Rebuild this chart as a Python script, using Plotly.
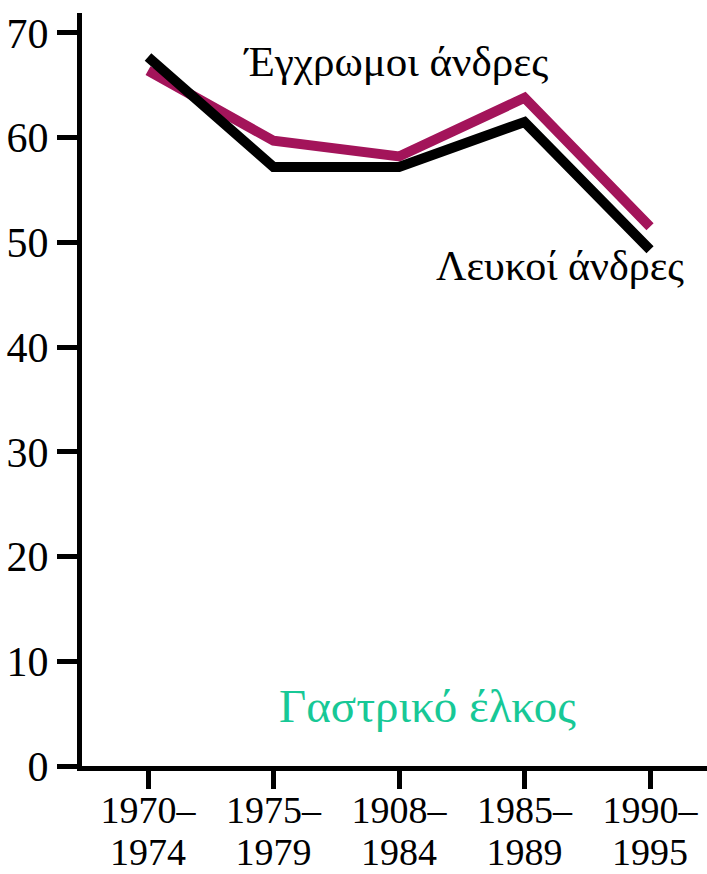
import plotly.graph_objects as go

period_start = ["1970–", "1975–", "1908–", "1985–", "1990–"]
period_end = ["1974", "1979", "1984", "1989", "1995"]
x_pos = [0, 1, 2, 3, 4]
colored_men = [66.4, 59.7, 58.2, 63.8, 51.5]
white_men = [67.7, 57.2, 57.2, 61.5, 49.3]
y_ticks = [0, 10, 20, 30, 40, 50, 60, 70]

FONT = "Liberation Serif"
MAGENTA = "#A3145A"
TEAL = "#17C896"

fig = go.Figure()
fig.add_trace(go.Scatter(x=x_pos, y=colored_men, mode="lines",
                         line=dict(color=MAGENTA, width=10), showlegend=False))
fig.add_trace(go.Scatter(x=x_pos, y=white_men, mode="lines",
                         line=dict(color="black", width=10), showlegend=False))
# invisible trace to activate the second (label) x axis
fig.add_trace(go.Scatter(x=x_pos, y=white_men, xaxis="x2", mode="lines",
                         line=dict(width=0), hoverinfo="skip", showlegend=False,
                         opacity=0))

fig.add_annotation(x=1.97, y=67.3, text="Έγχρωμοι άνδρες", showarrow=False,
                   xanchor="center", yanchor="middle",
                   font=dict(family=FONT, size=43, color="black"))
fig.add_annotation(x=3.28, y=47.7, text="Λευκοί άνδρες", showarrow=False,
                   xanchor="center", yanchor="middle",
                   font=dict(family=FONT, size=42, color="black"))
fig.add_annotation(x=2.227, y=5.7, text="Γαστρικό έλκος", showarrow=False,
                   xanchor="center", yanchor="middle",
                   font=dict(family=FONT, size=47, color=TEAL))

fig.update_layout(
    width=707, height=874,
    margin=dict(l=82, r=0, t=13, b=108),
    paper_bgcolor="white", plot_bgcolor="white",
    font=dict(family=FONT, size=40, color="black"),
    xaxis=dict(range=[-0.526, 4.454], tickvals=x_pos, ticktext=period_start,
               showgrid=False, zeroline=False, showline=True, linecolor="black",
               linewidth=5, ticks="outside", ticklen=18, tickwidth=5,
               tickcolor="black", tickfont=dict(family=FONT, size=38),
               ticklabelstandoff=-12, automargin=False),
    xaxis2=dict(range=[-0.526, 4.454], tickvals=x_pos, ticktext=period_end,
                overlaying="x", anchor="y", side="bottom",
                showgrid=False, zeroline=False, showline=False, ticks="",
                ticklabelstandoff=60, tickfont=dict(family=FONT, size=38),
                automargin=False),
    yaxis=dict(range=[0, 71.9], tickvals=y_ticks,
               showgrid=False, zeroline=False, showline=True, linecolor="black",
               linewidth=5, ticks="outside", ticklen=20, tickwidth=5,
               tickcolor="black", tickfont=dict(family=FONT, size=42),
               automargin=False),
)

fig.write_html("out.html", config={"displayModeBar": False},
               post_script="document.body.style.margin='0';document.body.style.overflow='hidden';")
